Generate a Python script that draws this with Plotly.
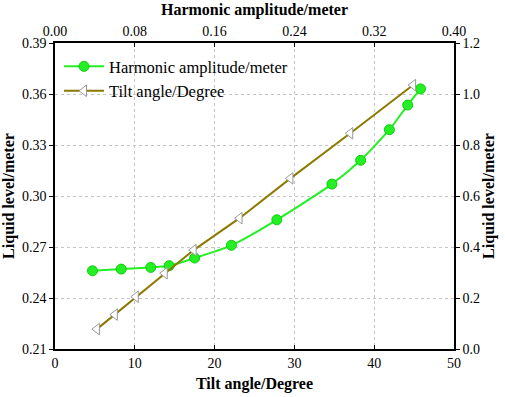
import plotly.graph_objects as go

# Green series: tilt angle (deg) vs liquid level (m)
tilt_deg = [4.7, 8.3, 12.0, 14.3, 17.5, 22.1, 27.8, 34.7, 38.3, 41.9, 44.2, 45.8]
liquid_level = [0.256, 0.257, 0.258, 0.259, 0.2635, 0.271, 0.286, 0.307, 0.321, 0.339, 0.3535, 0.363]

# Olive series: harmonic amplitude (m) vs right axis value
harm_amp = [0.042, 0.060, 0.081, 0.110, 0.139, 0.185, 0.236, 0.296, 0.359]
right_val = [0.078, 0.135, 0.205, 0.297, 0.388, 0.513, 0.669, 0.846, 1.035]

font_family = "Liberation Serif"
green = "#22F022"
olive = "#8C7A00"

fig = go.Figure()
fig.add_trace(go.Scatter(
    x=tilt_deg, y=liquid_level, mode="lines+markers",
    name="Harmonic amplitude/meter",
    line=dict(color=green, width=2, shape="spline", smoothing=0.6),
    marker=dict(symbol="circle", size=10, color=green, line=dict(color="#14C814", width=1)),
    xaxis="x", yaxis="y",
))
fig.add_trace(go.Scatter(
    x=harm_amp, y=right_val, mode="lines+markers",
    name="Tilt angle/Degree",
    line=dict(color=olive, width=2),
    marker=dict(symbol="triangle-left", size=10, color="white", line=dict(color="#999999", width=1)),
    xaxis="x2", yaxis="y2",
))

axis_font = dict(family=font_family, size=14, color="black")
title_font = dict(family=font_family, size=16, color="black")
grid = dict(showgrid=True, gridcolor="#C4C4C4", griddash="dot", gridwidth=1)

fig.update_layout(
    width=505, height=397,
    margin=dict(l=55, r=51, t=43, b=48),
    paper_bgcolor="white", plot_bgcolor="white",
    showlegend=True,
    legend=dict(x=0.01, y=0.98, xanchor="left", yanchor="top",
                bgcolor="rgba(255,255,255,0)", font=dict(family=font_family, size=16.5, color="black"),
                tracegroupgap=0, itemwidth=40),
    xaxis=dict(range=[0, 50], dtick=10, tick0=0, ticks="inside", ticklen=4, tickcolor="black",
               showline=True, linecolor="black", linewidth=1.5, automargin=False,
               zeroline=False, tickfont=axis_font, **grid,
               title=dict(text="<b>Tilt angle/Degree</b>", font=title_font, standoff=8)),
    xaxis2=dict(range=[0, 0.40], dtick=0.08, tick0=0, tickformat=".2f", overlaying="x", side="top",
                ticks="inside", ticklen=4, tickcolor="black", automargin=False,
                showline=True, linecolor="black", linewidth=1.5, showgrid=False, zeroline=False,
                tickfont=axis_font, anchor="y",
                title=dict(text="<b>Harmonic amplitude/meter</b>", font=title_font, standoff=4)),
    yaxis=dict(range=[0.21, 0.39], dtick=0.03, tick0=0.21, tickformat=".2f",
               ticks="outside", ticklen=4, tickcolor="black", automargin=False,
               showline=True, linecolor="black", linewidth=1.5,
               zeroline=False, tickfont=axis_font, **grid,
               title=dict(text="<b>Liquid level/meter</b>", font=title_font, standoff=4)),
    yaxis2=dict(range=[0, 1.2], dtick=0.2, tick0=0, tickformat=".1f", overlaying="y", side="right",
                ticks="outside", ticklen=4, tickcolor="black", automargin=False,
                showline=True, linecolor="black", linewidth=1.5, showgrid=False, zeroline=False,
                tickfont=axis_font, anchor="x",
                title=dict(text="<b>Liquid level/meter</b>", font=title_font, standoff=4)),
)

fig.write_html("out.html", config={"displayModeBar": False},
               post_script="document.body.style.margin='0';")
